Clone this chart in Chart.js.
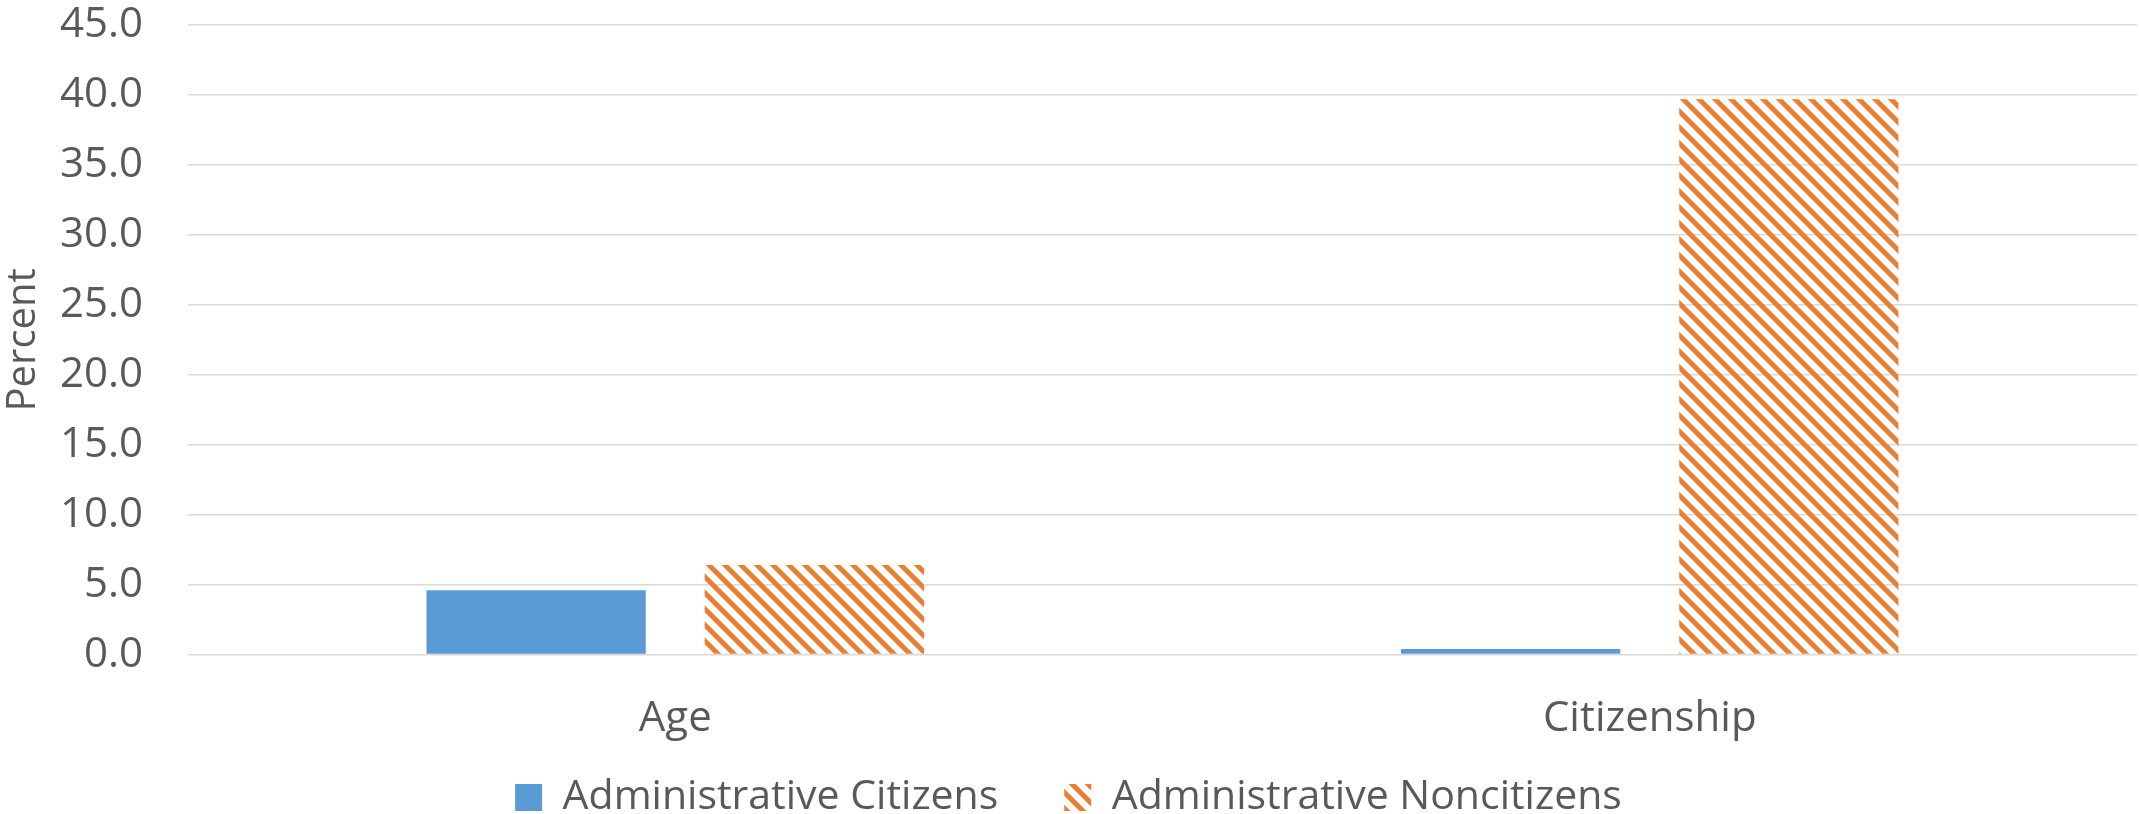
<!DOCTYPE html>
<html lang="en">
<head>
    <meta charset="UTF-8">
    <script src="https://cdn.jsdelivr.net/npm/chart.js@4.4.0/dist/chart.umd.min.js"></script>
    <style>
        body{
            margin: 0;
            background: #fff;
        }
        .container{
            width: 2139px;
            height: 814px;
            position: relative;
        }
    </style>
    <title>chart</title>
</head>
<body>
    <div class="container">
        <canvas id="canvas"></canvas>
    </div>

<script type="text/javascript">
    // data
    const categories = ['Age', 'Citizenship'];
    const citizens = [4.6, 0.4];
    const noncitizens = [6.4, 39.7];
    const seriesNames = ['Administrative Citizens', 'Administrative Noncitizens'];
    const yTicks = [0, 5, 10, 15, 20, 25, 30, 35, 40, 45];

    const textColor = '#595959';
    const font = "'Open Sans', sans-serif";

    // orange diagonal hatch like Excel's wide downward diagonal
    function hatch(color) {
        const c = document.createElement('canvas');
        c.width = 16; c.height = 16;
        const g = c.getContext('2d');
        g.strokeStyle = color;
        g.lineWidth = 5;
        [-16, 0, 16].forEach(function(o){
            g.beginPath();
            g.moveTo(o - 2, -2);
            g.lineTo(o + 18, 18);
            g.stroke();
        });
        return g.createPattern(c, 'repeat');
    }

    const ctx = document.getElementById('canvas').getContext('2d');
    const myChart = new Chart(ctx, {
        type: 'bar',
        data: {
            labels: categories,
            datasets: [{
                label: seriesNames[0],
                data: citizens,
                backgroundColor: '#5B9BD5'
            },{
                label: seriesNames[1],
                data: noncitizens,
                backgroundColor: hatch('#ED7D31')
            }]
        },
        options: {
            responsive: true,
            maintainAspectRatio: false,
            animation: false,
            devicePixelRatio: 1,
            barPercentage: 0.788,
            categoryPercentage: 0.571,
            layout: {
                // negative bottom pushes the legend down to the canvas edge
                padding: {top: 25, right: 2, left: 0, bottom: -14}
            },
            plugins: {
                tooltip: {enabled: false},
                legend: {
                    position: 'bottom',
                    labels: {
                        color: textColor,
                        font: {family: font, size: 41},
                        boxWidth: 27,
                        boxHeight: 27,
                        padding: 2,
                        // wider gap between the two entries, like the original
                        generateLabels: function(chart){
                            const items = Chart.defaults.plugins.legend.labels.generateLabels(chart);
                            items[0].text = items[0].text + '      ';
                            return items;
                        }
                    }
                }
            },
            scales: {
                x: {
                    grid: {display: false},
                    border: {display: false},
                    ticks: {
                        color: textColor,
                        font: {family: font, size: 42},
                        padding: 31
                    }
                },
                y: {
                    min: 0,
                    max: 45,
                    afterBuildTicks: function(scale){
                        scale.ticks = yTicks.map(function(v){ return {value: v}; });
                    },
                    afterFit: function(scale){
                        scale.width = 188;
                        scale.paddingTop = 0;
                        scale.paddingBottom = 0;
                    },
                    grid: {
                        color: '#D9D9D9',
                        lineWidth: 1.5,
                        drawTicks: false
                    },
                    border: {display: false},
                    ticks: {
                        color: textColor,
                        font: {family: font, size: 42},
                        padding: 45,
                        callback: function(v){ return Number(v).toFixed(1); }
                    },
                    title: {
                        display: true,
                        text: 'Percent',
                        color: textColor,
                        font: {family: font, size: 40},
                        padding: {top: 0, bottom: 0}
                    }
                }
            }
        }
    });
</script>
</body>
</html>
